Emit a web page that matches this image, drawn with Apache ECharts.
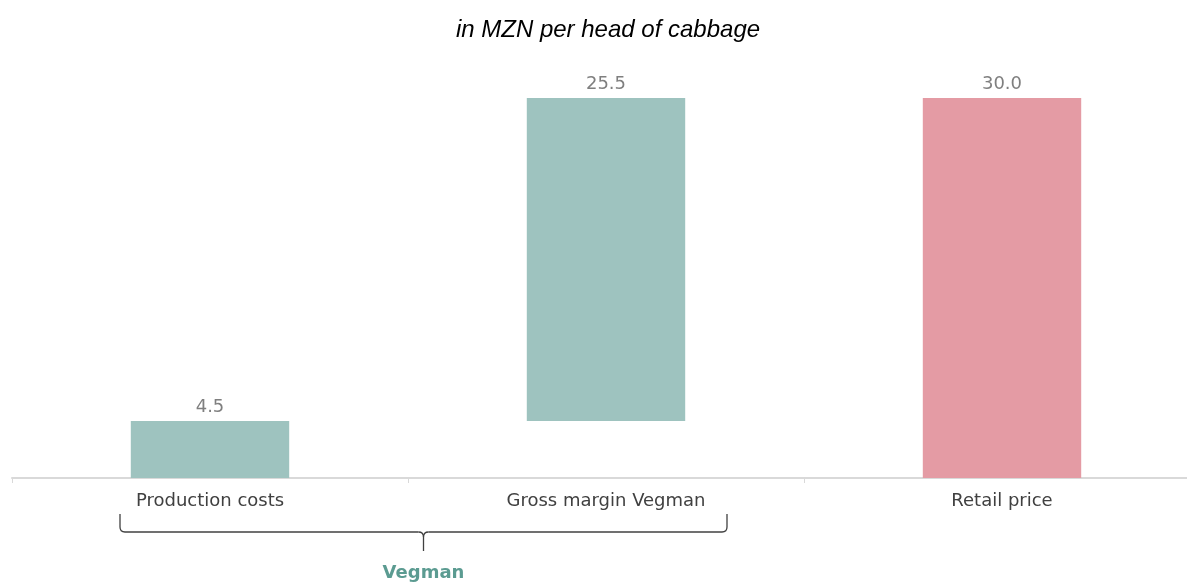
<!DOCTYPE html>
<html>
<head>
<meta charset="utf-8">
<script src="https://cdn.jsdelivr.net/npm/echarts@6/dist/echarts.min.js"></script>
<style>
html, body { margin: 0; padding: 0; background: #fff; overflow: hidden; }
#main { width: 1216px; height: 584px; }
</style>
</head>
<body>
<div id="main"></div>
<script>
var categories = ['Production costs', 'Gross margin Vegman', 'Retail price'];
var baseValues = [0, 4.5, 0];
var barValues = [4.5, 25.5, 30.0];
var barColors = ['#9ec3bf', '#9ec3bf', '#e49ba4'];
var groupLabel = 'Vegman';

var myChart = echarts.init(document.getElementById('main'));
var option = {
    animation: false,
    title: {
        text: 'in MZN per head of cabbage',
        left: 'center',
        top: 13,
        textStyle: { fontFamily: 'Arial, Liberation Sans', fontStyle: 'italic', fontWeight: 'normal', fontSize: 24, color: '#000' }
    },
    grid: { left: 12, right: 16, top: 98, bottom: 106, containLabel: false },
    xAxis: {
        type: 'category',
        data: categories,
        axisLine: { lineStyle: { color: '#d9d9d9', width: 2 } },
        axisTick: { show: true, length: 5, lineStyle: { color: '#d9d9d9' } },
        axisLabel: { margin: 14, fontFamily: 'DejaVu Sans', fontSize: 18, color: '#404040' }
    },
    yAxis: {
        type: 'value', min: 0, max: 30, show: false
    },
    series: [{
        type: 'bar',
        stack: 'w',
        data: baseValues,
        itemStyle: { color: 'transparent' },
        silent: true
    }, {
        type: 'bar',
        stack: 'w',
        barWidth: '40%',
        data: barValues.map(function (v, i) {
            return { value: v, itemStyle: { color: barColors[i] } };
        }),
        label: {
            show: true, position: 'top', distance: 5,
            fontFamily: 'DejaVu Sans', fontSize: 18, color: '#7f7f7f',
            formatter: function (p) { return p.value.toFixed(1); }
        }
    }]
};
myChart.setOption(option);

// brace under the first two categories
var x0 = myChart.convertToPixel({ xAxisIndex: 0 }, 0) - 90;
var x1 = myChart.convertToPixel({ xAxisIndex: 0 }, 1) + 121;
var xm = (x0 + x1) / 2;
var yTop = 514, yLine = 532, yTip = 551, r = 5;
var braceStyle = { stroke: '#404040', lineWidth: 1.3, fill: 'none' };
function seg(a, b, c, d) {
    return { type: 'line', shape: { x1: a, y1: b, x2: c, y2: d }, style: braceStyle };
}
function curve(a, b, cx, cy, c, d) {
    return { type: 'bezierCurve', shape: { x1: a, y1: b, cpx1: cx, cpy1: cy, x2: c, y2: d }, style: braceStyle };
}
myChart.setOption({
    graphic: [
        seg(x0, yTop, x0, yLine - r),
        curve(x0, yLine - r, x0, yLine, x0 + r, yLine),
        seg(x0 + r, yLine, xm - r, yLine),
        curve(xm - r, yLine, xm, yLine, xm, yLine + r),
        curve(xm + r, yLine, xm, yLine, xm, yLine + r),
        seg(xm, yLine + r, xm, yTip),
        seg(xm + r, yLine, x1 - r, yLine),
        curve(x1 - r, yLine, x1, yLine, x1, yLine - r),
        seg(x1, yLine - r, x1, yTop),
        {
            type: 'text',
            x: xm, y: 573,
            style: {
                text: groupLabel, align: 'center', verticalAlign: 'middle',
                fontFamily: 'DejaVu Sans', fontWeight: 'bold', fontSize: 18, fill: '#5b9b91'
            }
        }
    ]
});
</script>
</body>
</html>
